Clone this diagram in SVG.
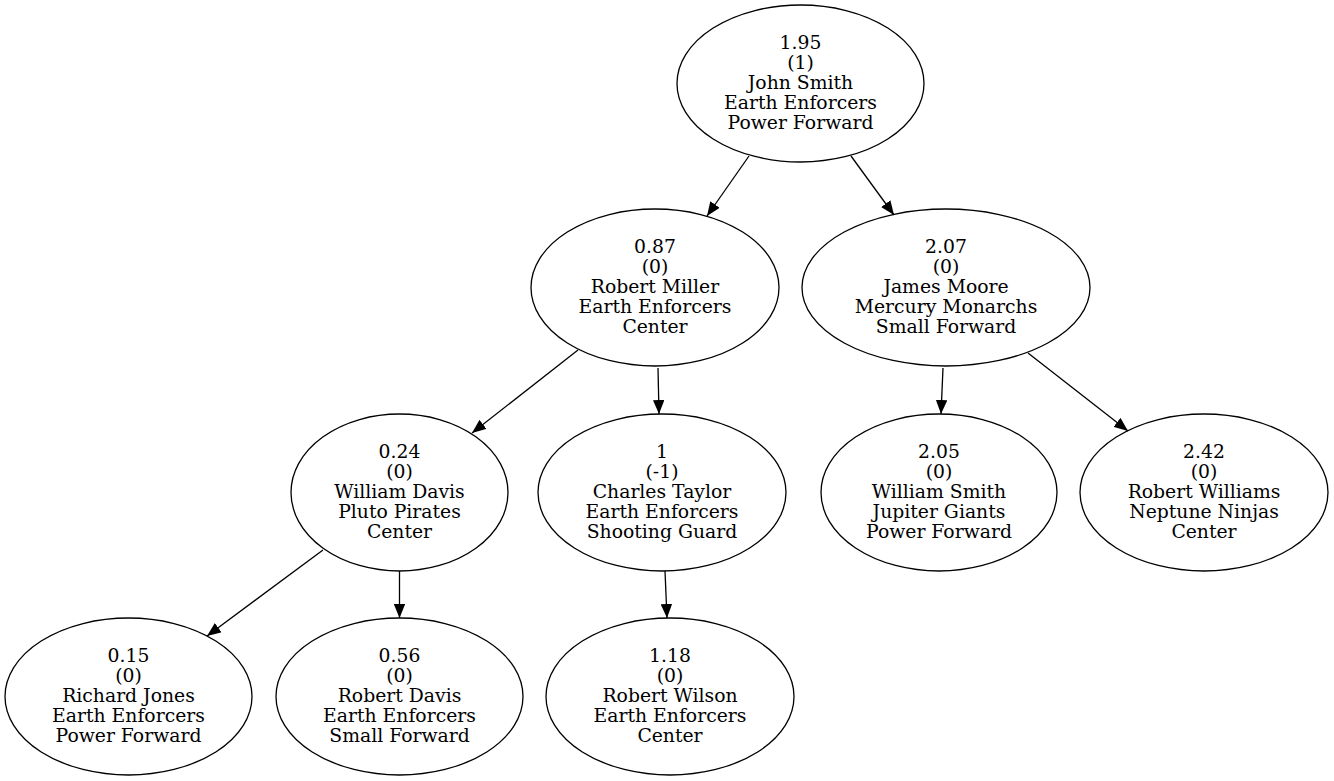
<svg xmlns="http://www.w3.org/2000/svg" width="1334" height="781" viewBox="0 0 1334 781">
<style>
.n ellipse{fill:none;stroke:#000;stroke-width:1.3}
.n text{font-family:"DejaVu Serif",serif;font-size:18.8px;text-anchor:middle;fill:#000}
.e line{stroke:#000;stroke-width:1.3}
</style>
<defs>
<marker id="ah" viewBox="0 0 14 11.5" refX="14" refY="5.75" markerWidth="14" markerHeight="11.5" markerUnits="userSpaceOnUse" orient="auto">
<path d="M0,0 L14,5.75 L0,11.5 z" fill="#000"/>
</marker>
</defs>
<rect width="1334" height="781" fill="#fff"/>
<g class="e" id="edges">
<line x1="749" y1="156" x2="707" y2="216" marker-end="url(#ah)"/>
<line x1="851" y1="156" x2="894" y2="215" marker-end="url(#ah)"/>
<line x1="578" y1="350" x2="472" y2="433" marker-end="url(#ah)"/>
<line x1="658" y1="368" x2="659" y2="414" marker-end="url(#ah)"/>
<line x1="943" y1="368" x2="941" y2="414" marker-end="url(#ah)"/>
<line x1="1028" y1="353" x2="1128" y2="431" marker-end="url(#ah)"/>
<line x1="323" y1="550" x2="207" y2="636" marker-end="url(#ah)"/>
<line x1="399.5" y1="571" x2="399.5" y2="618" marker-end="url(#ah)"/>
<line x1="665" y1="571" x2="667" y2="618" marker-end="url(#ah)"/>
</g>
<g class="n" id="n_root">
<ellipse cx="800.5" cy="83.5" rx="123.5" ry="78.5"/>
<text x="800.5" y="48.5">1.95</text><text x="800.5" y="68.5">(1)</text><text x="800.5" y="88.5">John Smith</text><text x="800.5" y="108.5">Earth Enforcers</text><text x="800.5" y="128.5">Power Forward</text>
</g>
<g class="n" id="n_miller">
<ellipse cx="655" cy="287.5" rx="124" ry="78.5"/>
<text x="655" y="252.5">0.87</text><text x="655" y="272.5">(0)</text><text x="655" y="292.5">Robert Miller</text><text x="655" y="312.5">Earth Enforcers</text><text x="655" y="332.5">Center</text>
</g>
<g class="n" id="n_moore">
<ellipse cx="946" cy="287.5" rx="144" ry="78.5"/>
<text x="946" y="252.5">2.07</text><text x="946" y="272.5">(0)</text><text x="946" y="292.5">James Moore</text><text x="946" y="312.5">Mercury Monarchs</text><text x="946" y="332.5">Small Forward</text>
</g>
<g class="n" id="n_wdavis">
<ellipse cx="399.5" cy="492.5" rx="108.5" ry="78.5"/>
<text x="399.5" y="457.5">0.24</text><text x="399.5" y="477.5">(0)</text><text x="399.5" y="497.5">William Davis</text><text x="399.5" y="517.5">Pluto Pirates</text><text x="399.5" y="537.5">Center</text>
</g>
<g class="n" id="n_taylor">
<ellipse cx="662" cy="492.5" rx="124" ry="78.5"/>
<text x="662" y="457.5">1</text><text x="662" y="477.5">(-1)</text><text x="662" y="497.5">Charles Taylor</text><text x="662" y="517.5">Earth Enforcers</text><text x="662" y="537.5">Shooting Guard</text>
</g>
<g class="n" id="n_wsmith">
<ellipse cx="939" cy="492.5" rx="118" ry="78.5"/>
<text x="939" y="457.5">2.05</text><text x="939" y="477.5">(0)</text><text x="939" y="497.5">William Smith</text><text x="939" y="517.5">Jupiter Giants</text><text x="939" y="537.5">Power Forward</text>
</g>
<g class="n" id="n_rwilliams">
<ellipse cx="1204" cy="492.5" rx="124" ry="78.5"/>
<text x="1204" y="457.5">2.42</text><text x="1204" y="477.5">(0)</text><text x="1204" y="497.5">Robert Williams</text><text x="1204" y="517.5">Neptune Ninjas</text><text x="1204" y="537.5">Center</text>
</g>
<g class="n" id="n_rjones">
<ellipse cx="128.5" cy="696.5" rx="123.5" ry="78.5"/>
<text x="128.5" y="661.5">0.15</text><text x="128.5" y="681.5">(0)</text><text x="128.5" y="701.5">Richard Jones</text><text x="128.5" y="721.5">Earth Enforcers</text><text x="128.5" y="741.5">Power Forward</text>
</g>
<g class="n" id="n_rdavis">
<ellipse cx="399.5" cy="696.5" rx="123.5" ry="78.5"/>
<text x="399.5" y="661.5">0.56</text><text x="399.5" y="681.5">(0)</text><text x="399.5" y="701.5">Robert Davis</text><text x="399.5" y="721.5">Earth Enforcers</text><text x="399.5" y="741.5">Small Forward</text>
</g>
<g class="n" id="n_rwilson">
<ellipse cx="670" cy="696.5" rx="124" ry="78.5"/>
<text x="670" y="661.5">1.18</text><text x="670" y="681.5">(0)</text><text x="670" y="701.5">Robert Wilson</text><text x="670" y="721.5">Earth Enforcers</text><text x="670" y="741.5">Center</text>
</g>
</svg>
